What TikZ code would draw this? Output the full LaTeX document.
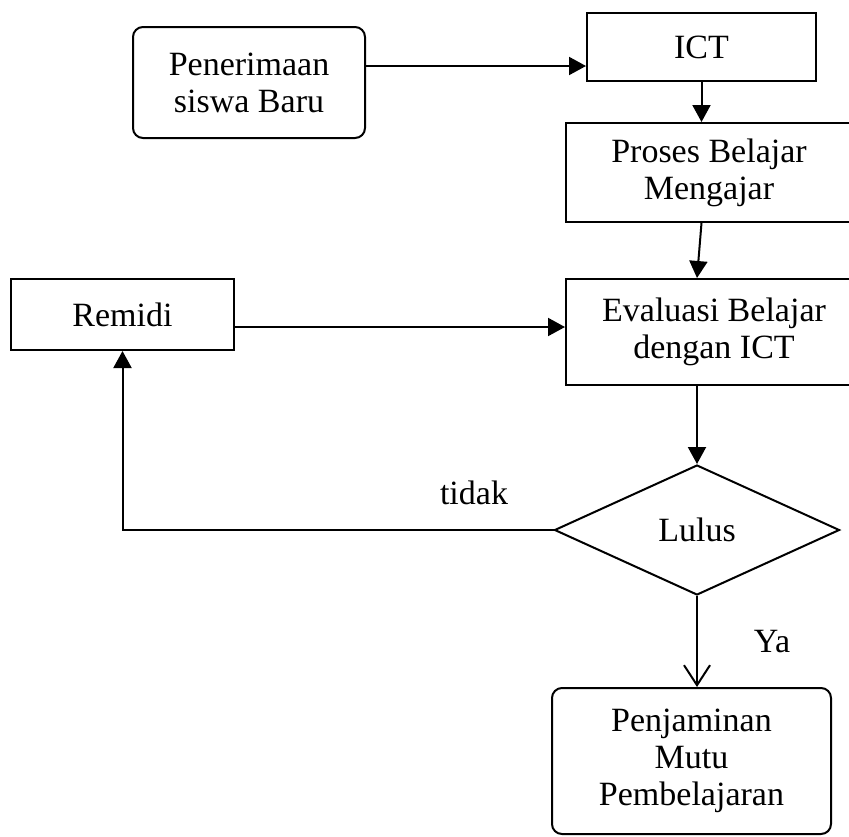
\documentclass[tikz,border=0pt]{standalone}
\usepackage{fontspec}
\setmainfont{Liberation Serif}
\usetikzlibrary{shapes.geometric,arrows.meta}

\tikzset{
  kotak/.style={draw, rectangle, align=center, inner sep=0pt},
  bulat/.style={kotak, rounded corners=10pt},
  panah/.style={-{Triangle[length=17pt,width=18pt]}},
  panahbuka/.style={-{Straight Barb[length=20pt,width=26pt]}},
}

\begin{document}
\begin{tikzpicture}[x=1pt, y=-1pt, line width=2pt,
  font=\fontsize{34}{37}\selectfont]
\useasboundingbox (0,0) rectangle (849,836);
\clip (0,0) rectangle (849,836);
\node[bulat, minimum width=232pt, minimum height=111pt] (terima) at (249,82.5) {Penerimaan\\siswa Baru};
\node[kotak, minimum width=229pt, minimum height=68pt] (ict) at (701.5,47) {ICT};
\node[kotak, minimum width=286pt, minimum height=99pt] (proses) at (709,172.5) {Proses Belajar\\Mengajar};
\node[kotak, minimum width=223pt, minimum height=71pt] (remidi) at (122.5,314.5) {Remidi};
\node[kotak, minimum width=296pt, minimum height=106pt] (eval) at (714,332) {Evaluasi Belajar\\dengan ICT};
\node[draw, diamond, minimum width=285pt, minimum height=130pt, inner sep=0pt] (lulus) at (697,530) {Lulus}; % keputusan
\node[bulat, minimum width=279pt, minimum height=146pt] (jamin) at (691.5,761) {Penjaminan\\Mutu\\Pembelajaran};
\node (tidak) at (474,493) {tidak};
\node (ya) at (772,642) {Ya};

\draw[panah] ([yshift=16.5pt]terima.east) -- ([yshift=16.5pt]terima.east -| ict.west);
\draw[panah] (ict.south) -- (ict.south |- proses.north);
\draw[panah] (proses.south -| ict.south) -- (eval.north -| lulus.north);
\draw[panah] ([yshift=-12.5pt]remidi.east) -- ([yshift=-12.5pt]remidi.east -| eval.west);
\draw[panah] (eval.south -| lulus.north) -- (lulus.north);
\draw[panah] (lulus.west) -| (remidi.south); % tidak
\draw[panahbuka] (lulus.south) -- (lulus.south |- jamin.north); % ya
\end{tikzpicture}
\end{document}
